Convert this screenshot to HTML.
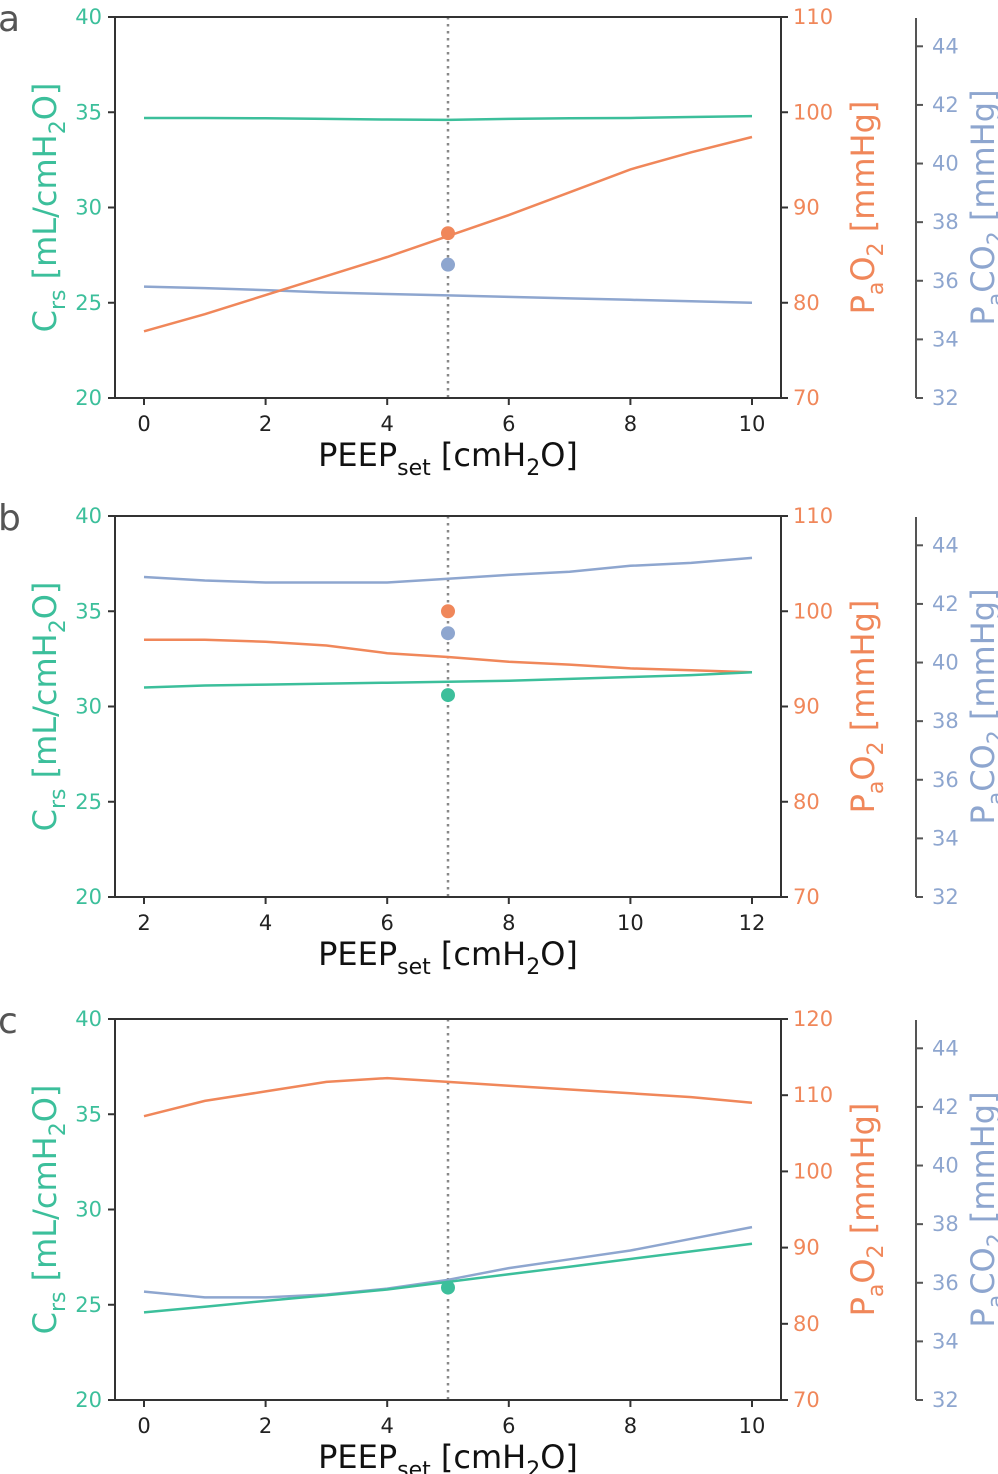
<!DOCTYPE html>
<html><head><meta charset="utf-8"><style>
html,body{margin:0;padding:0;background:#fff;}
svg{display:block;font-family:"DejaVu Sans","Liberation Sans",sans-serif;}
</style></head><body>
<svg id="fig" width="998" height="1474" viewBox="0 0 998 1474" xmlns="http://www.w3.org/2000/svg"></svg>
<script>
// Panel a
const aPeep=[0,1,2,3,4,5,6,7,8,9,10];
const aCrs=[34.7,34.7,34.68,34.65,34.62,34.6,34.65,34.68,34.7,34.75,34.8];
const aPaO2=[77,78.8,80.8,82.8,84.8,87,89.2,91.6,94,95.8,97.4];
const aPaCO2=[35.8,35.75,35.68,35.6,35.55,35.5,35.45,35.4,35.35,35.3,35.25];
const aMarkX=5; const aMarkCrs=null; const aMarkPaO2=87.3; const aMarkPaCO2=36.55;
// Panel b
const bPeep=[2,3,4,5,6,7,8,9,10,11,12];
const bCrs=[31.0,31.1,31.15,31.2,31.25,31.3,31.35,31.45,31.55,31.65,31.8];
const bPaO2=[97,97,96.8,96.4,95.6,95.2,94.7,94.4,94.0,93.8,93.6];
const bPaCO2=[42.92,42.8,42.73,42.73,42.73,42.86,42.99,43.1,43.3,43.4,43.57];
const bMarkX=7; const bMarkCrs=30.6; const bMarkPaO2=100; const bMarkPaCO2=41.0;
// Panel c
const cPeep=[0,1,2,3,4,5,6,7,8,9,10];
const cCrs=[24.6,24.9,25.2,25.5,25.8,26.2,26.6,27.0,27.4,27.8,28.2];
const cPaO2=[107.25,109.25,110.5,111.75,112.25,111.75,111.25,110.75,110.25,109.75,109];
const cPaCO2=[35.7,35.5,35.5,35.6,35.8,36.1,36.5,36.8,37.1,37.5,37.9];
const cMarkX=5; const cMarkCrs=25.9; const cMarkPaO2=null; const cMarkPaCO2=null;

const xTicksA=[0,2,4,6,8,10], xTicksB=[2,4,6,8,10,12];
const crsTicks=[20,25,30,35,40];
const pao2TicksAB=[70,80,90,100,110], pao2TicksC=[70,80,90,100,110,120];
const paco2Ticks=[32,34,36,38,40,42,44];

const G='#3cbf9b', O='#f0875a', B='#8ea6cf', K='#333';
const NS='http://www.w3.org/2000/svg';
const svg=document.getElementById('fig');
function mk(tag,attrs,parent,txt){const e=document.createElementNS(NS,tag);for(const k in attrs)e.setAttribute(k,attrs[k]);if(txt!==undefined)e.textContent=txt;(parent||svg).appendChild(e);return e;}

function panel(letter,top,peep,crs,pao2,paco2,xmin,xmax,xticks,oMin,oMax,oTicks,mx,mC,mO,mB){
  const L=115,R=781,S=916,T=top,Bt=top+381;
  const g=mk('g',{});
  
  
  const X=v=>144+(v-xmin)/(xmax-xmin)*608;
  const YC=v=>Bt-(v-20)/20*381;
  const YO=v=>Bt-(v-oMin)/(oMax-oMin)*381;
  const YB=v=>Bt-(v-32)/13*381;
  const lt=mk('text',{x:-2,y:T+14,'font-size':36,fill:'#555'},g,letter);
  
  const dl=mk('line',{x1:X(mx),x2:X(mx),y1:T,y2:Bt,stroke:'#888','stroke-width':2.5,'stroke-dasharray':'2.5,4.5'},g);
  
  function line(vals,Y,col,name){const d=vals.map((v,i)=>(i?'L':'M')+X(peep[i]).toFixed(1)+','+Y(v).toFixed(1)).join(' ');
    const p=mk('path',{d:d,fill:'none',stroke:col,'stroke-width':2.5},g);}
  line(paco2,YB,B,'paco2-line');line(pao2,YO,O,'pao2-line');line(crs,YC,G,'crs-line');
  function dot(v,Y,col,name){if(v===null)return;const c=mk('circle',{cx:X(mx),cy:Y(v),r:7,fill:col},g);}
  dot(mO,YO,O,'pao2-marker');dot(mB,YB,B,'paco2-marker');dot(mC,YC,G,'crs-marker');
  const bx=mk('path',{d:`M${L},${T} H${R} V${Bt} H${L} Z`,fill:'none',stroke:K,'stroke-width':2},g);
  
  xticks.forEach(t=>{mk('line',{x1:X(t),x2:X(t),y1:Bt,y2:Bt+7,stroke:K,'stroke-width':2},g);
    const e=mk('text',{x:X(t),y:Bt+33,'font-size':21,fill:'#222','text-anchor':'middle'},g,t);});
  crsTicks.forEach(t=>{mk('line',{x1:L-7,x2:L,y1:YC(t),y2:YC(t),stroke:K,'stroke-width':2},g);
    const e=mk('text',{x:L-13,y:YC(t)+7,'font-size':21,fill:G,'text-anchor':'end'},g,t);});
  oTicks.forEach(t=>{mk('line',{x1:R,x2:R+7,y1:YO(t),y2:YO(t),stroke:K,'stroke-width':2},g);
    const e=mk('text',{x:R+12,y:YO(t)+7,'font-size':21,fill:O},g,t);});
  const sp=mk('line',{x1:S,x2:S,y1:T+1,y2:Bt,stroke:'#555','stroke-width':2},g);
  paco2Ticks.forEach(t=>{mk('line',{x1:S,x2:S+7,y1:YB(t),y2:YB(t),stroke:'#555','stroke-width':2},g);
    const e=mk('text',{x:S+16,y:YB(t)+7,'font-size':21,fill:B},g,t);});
  const mid=(T+Bt)/2;
  const xl=mk('text',{x:448,y:Bt+68,'font-size':32,fill:'#111','text-anchor':'middle'},g);
  xl.innerHTML='PEEP<tspan font-size="22" dy="9">set</tspan><tspan dy="-9"> [cmH</tspan><tspan font-size="22" dy="9">2</tspan><tspan dy="-9">O]</tspan>';
  
  const yl=mk('text',{transform:`translate(56,${mid}) rotate(-90)`,'font-size':32,fill:G,'text-anchor':'middle'},g);
  yl.innerHTML='C<tspan font-size="22" dy="9">rs</tspan><tspan dy="-9"> [mL/cmH</tspan><tspan font-size="22" dy="9">2</tspan><tspan dy="-9">O]</tspan>';
  
  const ol=mk('text',{transform:`translate(874,${mid}) rotate(-90)`,'font-size':32,fill:O,'text-anchor':'middle'},g);
  ol.innerHTML='P<tspan font-size="22" dy="9">a</tspan><tspan dy="-9">O</tspan><tspan font-size="22" dy="9">2</tspan><tspan dy="-9"> [mmHg]</tspan>';
  
  const bl=mk('text',{transform:`translate(994,${mid}) rotate(-90)`,'font-size':32,fill:B,'text-anchor':'middle'},g);
  bl.innerHTML='P<tspan font-size="22" dy="9">a</tspan><tspan dy="-9">CO</tspan><tspan font-size="22" dy="9">2</tspan><tspan dy="-9"> [mmHg]</tspan>';
  
}
panel('a',17,aPeep,aCrs,aPaO2,aPaCO2,0,10,xTicksA,70,110,pao2TicksAB,aMarkX,aMarkCrs,aMarkPaO2,aMarkPaCO2);
panel('b',516,bPeep,bCrs,bPaO2,bPaCO2,2,12,xTicksB,70,110,pao2TicksAB,bMarkX,bMarkCrs,bMarkPaO2,bMarkPaCO2);
panel('c',1019,cPeep,cCrs,cPaO2,cPaCO2,0,10,xTicksA,70,120,pao2TicksC,cMarkX,cMarkCrs,cMarkPaO2,cMarkPaCO2);
</script>
</body></html>
